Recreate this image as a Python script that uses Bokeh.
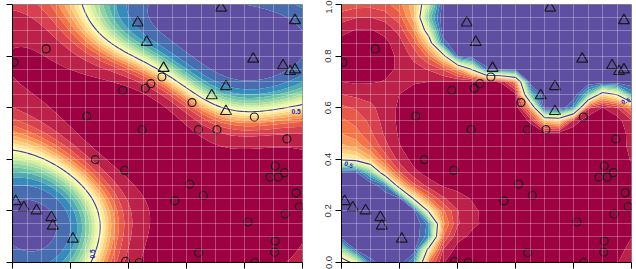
import numpy as np
from bokeh.plotting import figure
from bokeh.layouts import row
from bokeh.models import Label, FixedTicker, Range1d
from bokeh.embed import file_html
from bokeh.resources import INLINE

# ---- data ----
circle_x = [0.005, 0.116, 0.515, 0.477, 0.458, 0.380, 0.619, 0.834, 0.256, 0.447,
            0.641, 0.705, 0.946, 0.286, 0.387, 0.611, 0.658, 0.560, 0.906, 0.888,
            0.916, 0.938, 0.978, 0.989, 0.940, 0.812, 0.906, 0.904, 0.642, 0.390,
            0.437, 0.836]
circle_y = [0.776, 0.828, 0.719, 0.693, 0.675, 0.667, 0.620, 0.564, 0.567, 0.515,
            0.515, 0.515, 0.479, 0.399, 0.357, 0.304, 0.260, 0.239, 0.374, 0.331,
            0.331, 0.348, 0.270, 0.216, 0.188, 0.157, 0.083, 0.040, 0.038, 0.004,
            0.000, 0.000]
tri_x = [0.719, 0.432, 0.974, 0.463, 0.521, 0.830, 0.933, 0.957, 0.974, 0.736,
         0.687, 0.736, 0.011, 0.039, 0.083, 0.134, 0.139, 0.208]
tri_y = [0.987, 0.929, 0.938, 0.854, 0.753, 0.789, 0.763, 0.741, 0.747, 0.682,
         0.647, 0.586, 0.237, 0.213, 0.201, 0.175, 0.142, 0.091]
ticks = [0.0, 0.2, 0.4, 0.6, 0.8, 1.0]
tick_labels = ["0.0", "0.2", "0.4", "0.6", "0.8", "1.0"]
contour_levels = [round(0.05 * i, 2) for i in range(21)]
boundary_level = [0.5]

SPECTRAL = ["#9e0142", "#d53e4f", "#f46d43", "#fdae61", "#fee08b", "#ffffbf",
            "#e6f598", "#abdda4", "#66c2a5", "#3288bd", "#5e4fa2"]


def ramp(colors, n):
    rgb = np.array([[int(c[i:i + 2], 16) for i in (1, 3, 5)] for c in colors], float)
    t = np.linspace(0, 1, n)
    pos = np.linspace(0, 1, len(colors))
    out = []
    for tt in t:
        r = [np.interp(tt, pos, rgb[:, k]) for k in range(3)]
        out.append("#%02x%02x%02x" % tuple(int(round(v)) for v in r))
    return out


band_colors = ramp(SPECTRAL, len(contour_levels) - 1)


def prob_surface(gx, gy, ell, lam, c, gain_pos=1.0, gain_neg=1.0):
    """Kernel ridge fit of +-c labels (constant mean), squashed by a logistic."""
    px = np.array(tri_x + circle_x)
    py = np.array(tri_y + circle_y)
    lab = np.array([c] * len(tri_x) + [-c] * len(circle_x))
    mu = lab.mean()
    d2 = (px[:, None] - px[None, :]) ** 2 + (py[:, None] - py[None, :]) ** 2
    K = np.exp(-d2 / (2 * ell ** 2))
    alpha = np.linalg.solve(K + lam * np.eye(len(px)), lab - mu)
    X, Y = np.meshgrid(gx, gy)
    f = np.full(X.shape, mu)
    for a, x, y in zip(alpha, px, py):
        f += a * np.exp(-((X - x) ** 2 + (Y - y) ** 2) / (2 * ell ** 2))
    f = np.where(f > 0, f * gain_pos, f * gain_neg)
    return np.clip(1.0 / (1.0 + np.exp(-f)), 0, 1)


def make_panel(left, right, gx, gy, Z, show_ylabels, labels):
    p = figure(frame_width=290, frame_height=258, min_border_left=left,
               min_border_right=right, min_border_top=4, min_border_bottom=7,
               x_range=Range1d(0, 1), y_range=Range1d(0, 1),
               output_backend="svg", toolbar_location=None)
    lv = list(contour_levels)
    lv[0] = -0.01
    lv[-1] = 1.01
    p.contour(gx, gy, Z, levels=lv, fill_color=band_colors, line_color=None)
    p.contour(gx, gy, Z, levels=boundary_level, line_color="#3a3aa6", line_width=1.1)
    for (lx, ly, ang) in labels:
        p.add_layout(Label(x=lx, y=ly, text="0.5", angle=ang, text_align="center",
                           text_baseline="middle", text_font_size="6.5px",
                           text_font="Liberation Sans", text_font_style="bold",
                           text_color="#2020c8"))
    p.scatter(circle_x, circle_y, marker="circle", size=8, fill_color=None,
              line_color="#1a1a1a", line_width=1.2)
    p.scatter(tri_x, tri_y, marker="triangle", size=11, fill_color=None,
              line_color="#1a1a1a", line_width=1.2)

    grid_ticks = [round(0.05 * i, 2) for i in range(21)]
    for g in (p.xgrid[0], p.ygrid[0]):
        g.ticker = FixedTicker(ticks=grid_ticks)
        g.grid_line_color = "white"
        g.grid_line_alpha = 0.28
        g.grid_line_width = 1
        g.level = "guide"

    for ax in (p.xaxis[0], p.yaxis[0]):
        ax.ticker = FixedTicker(ticks=ticks)
        ax.axis_line_color = "black"
        ax.major_tick_line_color = "black"
        ax.major_tick_out = 6
        ax.major_tick_in = 0
        ax.minor_tick_line_color = None
    # tick labels below the frame lie outside the window in the reference
    p.xaxis.major_label_overrides = {t: "" for t in ticks}
    p.xaxis.major_label_text_font_size = "1px"
    p.xaxis.major_label_standoff = 0
    if show_ylabels:
        p.yaxis.major_label_overrides = {t: s for t, s in zip(ticks, tick_labels)}
        p.yaxis.major_label_orientation = "vertical"
        p.yaxis.major_label_text_font_size = "9.5px"
        p.yaxis.major_label_text_font = "Liberation Sans"
        p.yaxis.major_label_text_color = "#333333"
        p.yaxis.major_label_standoff = 4
    else:
        p.yaxis.major_label_overrides = {t: "" for t in ticks}
        p.yaxis.major_label_text_font_size = "1px"
        p.yaxis.major_label_standoff = 0
    p.outline_line_color = "#8a8a8a"
    p.outline_line_width = 1
    p.background_fill_color = "white"
    p.border_fill_color = "white"
    return p


# left: smooth model on a fine grid
gx1 = np.linspace(0, 1, 101)
gy1 = np.linspace(0, 1, 101)
Z1 = prob_surface(gx1, gy1, 0.21, 0.5, 3.5)
# right: sharper model on a coarse grid
gx2 = np.linspace(0, 1, 21)
gy2 = np.linspace(0, 1, 21)
Z2 = prob_surface(gx2, gy2, 0.1, 0.1, 5.0, gain_pos=2.5, gain_neg=0.8)

p1 = make_panel(12, 14, gx1, gy1, Z1, False,
                [(0.978, 0.586, 0.0), (0.275, 0.033, np.pi / 2)])
p2 = make_panel(25, 5, gx2, gy2, Z2, True,
                [(0.98, 0.627, 0.35), (0.025, 0.38, -0.35)])

layout = row(p1, p2)
open("out.html", "w").write(file_html(layout, INLINE))
